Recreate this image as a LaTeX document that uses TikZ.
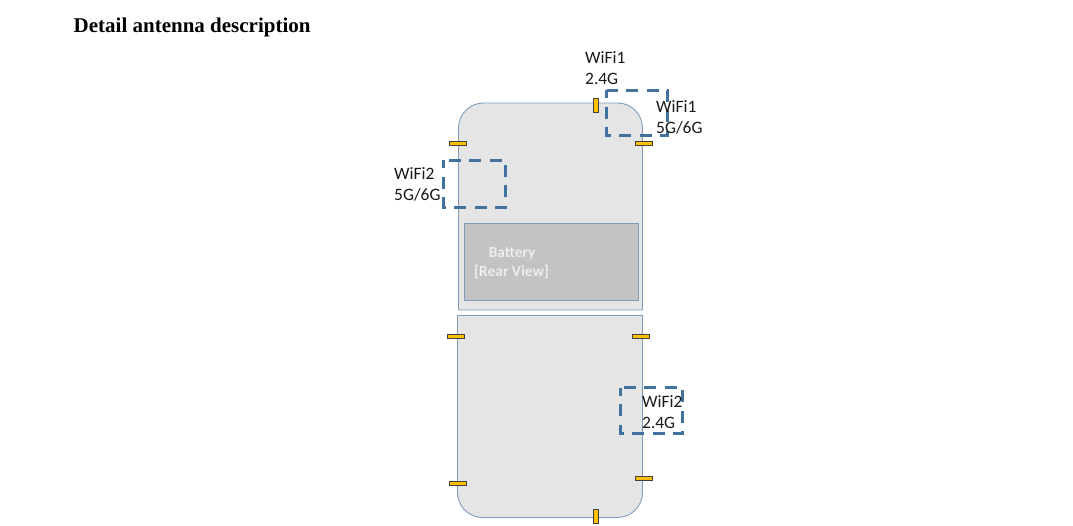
\documentclass[tikz,border=0pt]{standalone}
\usepackage{fontspec}
\setmainfont{Carlito}
\newfontfamily\titlefont{Liberation Serif}
\definecolor{panelfill}{HTML}{E5E5E5}
\definecolor{panelline}{HTML}{7F9DBA}
\definecolor{batfill}{HTML}{C4C2C2}
\definecolor{dashblue}{HTML}{41719C}
\definecolor{antfill}{HTML}{FFC000}
\definecolor{battext}{HTML}{EDEDED}
\tikzset{
  panelbox/.style={draw=panelline,fill=panelfill,line width=0.9pt},
  batterybox/.style={draw=panelline,fill=batfill,line width=0.9pt,minimum width=173.5pt,minimum height=77pt,inner sep=0pt,anchor=north west},
  dashbox/.style={draw=dashblue,line width=3pt,dash pattern=on 12pt off 8.5pt,dash phase=4pt},
  antenna/.style={draw=black!75,fill=antfill,line width=0.7pt,inner sep=0pt,anchor=north west},
  antV/.style={antenna,minimum width=4.5pt,minimum height=14pt},
  antH/.style={antenna,minimum width=17pt,minimum height=4pt},
  lab/.style={font=\fontsize{17.4pt}{21.5pt}\selectfont,align=left,anchor=north west,inner sep=0pt,text=black!90},
  batlab/.style={font=\bfseries\fontsize{15.4pt}{19pt}\selectfont,text=battext,inner sep=0pt,anchor=north west,align=center}
}
\begin{document}
\begin{tikzpicture}[x=1pt,y=-1pt]
\useasboundingbox (0,0) rectangle (1073,526);
\node[font=\titlefont\bfseries\fontsize{21pt}{24pt}\selectfont,anchor=west,inner sep=0pt] (title) at (73.5,27) {Detail antenna description};
% phone panels
\draw[panelbox] (458.5,310) -- (458.5,128) arc[start angle=180,end angle=270,radius=25] -- (617.5,103) arc[start angle=270,end angle=360,radius=25] -- (642.5,310) -- cycle;
\draw[panelbox] (457.5,315.5) -- (642.5,315.5) -- (642.5,492.5) arc[start angle=0,end angle=90,radius=25] -- (482.5,517.5) arc[start angle=90,end angle=180,radius=25] -- cycle;
\node[batterybox] (battery) at (464,223.5) {};
\node[batlab] (battxt) at (474,247) {\hspace*{1pt}Battery\\{}[Rear View]};
% antennas
\node[antV] (a1) at (593,98) {};
\node[antH] (a2) at (449,141) {};
\node[antH] (a3) at (634.5,141) {};
\node[antH] (a4) at (447,334.5) {};
\node[antH] (a5) at (631.5,334.5) {};
\node[antH] (a6) at (448.5,480.5) {};
\node[antH] (a7) at (634.5,476) {};
\node[antV] (a8) at (593,509) {};
% dashed regions
\draw[dashbox] (606.5,90.5) rectangle (667.5,135.5);
\draw[dashbox] (443.5,160.5) rectangle (505.5,207.5);
\draw[dashbox] (620.5,387.5) rectangle (682.5,433.5);
% labels
\node[lab] (l1) at (585,51) {WiFi1\\2.4G};
\node[lab] (l2) at (656,100) {WiFi1\\5G/6G};
\node[lab] (l3) at (394,167) {WiFi2\\5G/6G};
\node[lab] (l4) at (642,395) {WiFi2\\2.4G};
\end{tikzpicture}
\end{document}
